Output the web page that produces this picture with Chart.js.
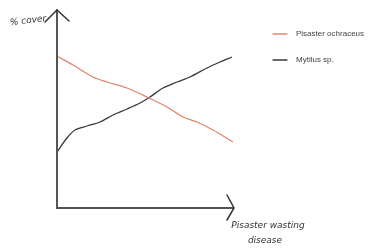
<!DOCTYPE html>
<html>
<head>
<meta charset="utf-8">
<script src="https://cdn.jsdelivr.net/npm/chart.js@4"></script>
<style>
  html, body { margin: 0; padding: 0; background: #fff; }
  #wrap { width: 370px; height: 248px; position: relative; }
</style>
</head>
<body>
<div id="wrap"><canvas id="chart"></canvas></div>
<script>
// Series values (x = disease progression, y = % cover, arbitrary units)
const pisasterX = [0, 16, 36, 50, 70, 90, 110, 126, 140, 156, 176];
const pisasterY = [152, 143, 131, 126, 120, 111, 101, 91, 86, 78, 66];
const mytilusX = [0, 10, 18, 30, 43, 56, 70, 83, 93, 106, 120, 133, 150, 163, 175];
const mytilusY = [56, 70, 78, 82, 86, 93, 99, 105, 111, 120, 126, 131, 140, 146, 151];
const seriesLabels = ['Pisaster ochraceus', 'Mytilus sp.'];
const seriesColors = ['#e0866f', '#3a3a3a'];
const yTitle = '% cover';
const xTitle = ['Pisaster wasting', 'disease'];

const toPoints = (xs, ys) => xs.map((x, i) => ({ x, y: ys[i] }));

// Hand-drawn style axes, arrows, labels and legend
const sketchPlugin = {
  id: 'sketch',
  afterDatasetsDraw(chart) {
    const { ctx, chartArea: a } = chart;
    ctx.save();
    ctx.strokeStyle = '#555';
    ctx.lineWidth = 2;
    ctx.lineCap = 'round';
    ctx.beginPath();
    ctx.moveTo(a.left, a.top);
    ctx.lineTo(a.left, a.bottom);
    ctx.lineTo(a.right, a.bottom);
    ctx.stroke();
    // arrow heads
    ctx.strokeStyle = '#333';
    ctx.lineWidth = 1.5;
    ctx.beginPath();
    ctx.moveTo(a.left - 12, a.top + 12);
    ctx.lineTo(a.left, a.top);
    ctx.lineTo(a.left + 12, a.top + 11);
    ctx.moveTo(a.right - 6, a.bottom - 13);
    ctx.lineTo(a.right + 1, a.bottom);
    ctx.lineTo(a.right - 6, a.bottom + 12);
    ctx.stroke();

    // axis titles
    ctx.fillStyle = '#333';
    ctx.font = 'italic 9px "DejaVu Sans", sans-serif';
    ctx.textBaseline = 'middle';
    ctx.save();
    ctx.translate(10, 23);
    ctx.rotate(-0.12);
    ctx.fillText(yTitle, 0, 0);
    ctx.restore();
    ctx.textAlign = 'center';
    ctx.fillText(xTitle[0], 268, 226);
    ctx.fillText(xTitle[1], 265, 241);

    // legend
    ctx.textAlign = 'left';
    ctx.font = '8px "Liberation Sans", Arial, sans-serif';
    seriesLabels.forEach((lab, i) => {
      const y = 34 + i * 26;
      ctx.strokeStyle = seriesColors[i];
      ctx.lineWidth = 1.3;
      ctx.beginPath();
      ctx.moveTo(273, y);
      ctx.lineTo(287, y);
      ctx.stroke();
      ctx.fillStyle = '#444';
      ctx.fillText(lab, 296, y);
    });
    ctx.restore();
  }
};

new Chart(document.getElementById('chart'), {
  type: 'line',
  data: {
    datasets: [
      { label: seriesLabels[0], data: toPoints(pisasterX, pisasterY), borderColor: seriesColors[0] },
      { label: seriesLabels[1], data: toPoints(mytilusX, mytilusY), borderColor: seriesColors[1] },
    ],
  },
  options: {
    responsive: true,
    maintainAspectRatio: false,
    animation: false,
    layout: { padding: { left: 57, top: 10, right: 137, bottom: 40 } },
    elements: {
      line: { borderWidth: 1.3, tension: 0.3 },
      point: { radius: 0 },
    },
    scales: {
      x: { type: 'linear', min: 0, max: 176, display: false },
      y: { min: 0, max: 198, display: false },
    },
    plugins: {
      legend: { display: false },
      tooltip: { enabled: false },
    },
  },
  plugins: [sketchPlugin],
});
</script>
</body>
</html>
